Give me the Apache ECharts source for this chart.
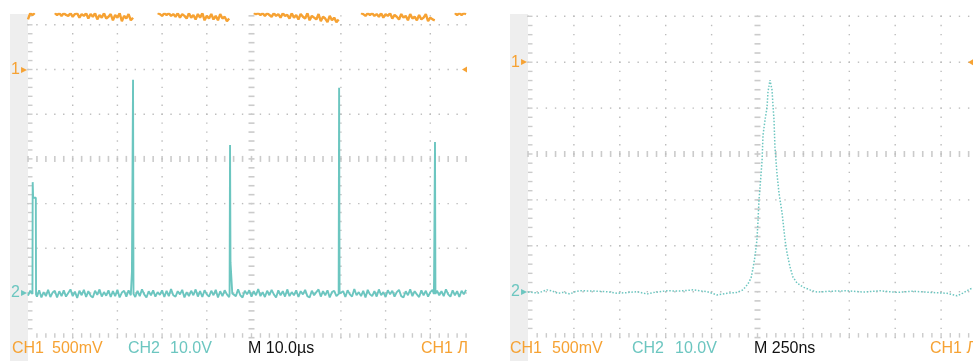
<!DOCTYPE html>
<html>
<head>
<meta charset="utf-8">
<script src="https://cdn.jsdelivr.net/npm/echarts@6/dist/echarts.min.js"></script>
<style>
  html, body { margin: 0; padding: 0; background: #ffffff; }
  #scope { width: 973px; height: 361px; }
</style>
</head>
<body>
<div id="scope"></div>
<script>
// ---- channel / timebase settings ----
const CH1_VOLTS_PER_DIV = 0.5;   // 500 mV/div
const CH2_VOLTS_PER_DIV = 10;    // 10.0 V/div
const CH1_GROUND_DIV = 6;        // "1" ground marker, divisions above the bottom edge
const CH2_GROUND_DIV = 1;        // "2" ground marker
const LEFT_US_PER_DIV = 10;      // M 10.0 µs
const RIGHT_NS_PER_DIV = 250;    // M 250 ns
const LEFT_STEP_US = 0.5;        // sample spacing of the left record

// ---- left screen, CH1 (volts); the trace runs off the top of the screen between segments ----
const leftCh1Segments = [
  { start: 0.0,  values: [0.56, 0.63, 0.61, 0.63] },
  { start: 6.0,  values: [0.63, 0.61, 0.63, 0.60, 0.63, 0.61, 0.60, 0.63, 0.59, 0.62, 0.63, 0.58, 0.62, 0.60, 0.63, 0.57, 0.62, 0.59,
                          0.63, 0.56, 0.61, 0.58, 0.63, 0.57, 0.59, 0.62, 0.55, 0.61, 0.58, 0.63, 0.54, 0.60, 0.57, 0.62, 0.55, 0.58] },
  { start: 29.0, values: [0.63, 0.62, 0.60, 0.63, 0.61, 0.63, 0.60, 0.62, 0.59, 0.63, 0.58, 0.62, 0.60, 0.57, 0.63, 0.58, 0.61,
                          0.56, 0.62, 0.58, 0.63, 0.55, 0.60, 0.57, 0.62, 0.56, 0.60, 0.55, 0.62, 0.57, 0.59, 0.54, 0.57] },
  { start: 50.5, values: [0.63, 0.62, 0.63, 0.61, 0.63, 0.60, 0.63, 0.61, 0.59, 0.63, 0.60, 0.62, 0.58, 0.63, 0.60, 0.61, 0.57, 0.63, 0.58, 0.61,
                          0.56, 0.62, 0.59, 0.57, 0.63, 0.55, 0.60, 0.58, 0.56, 0.62, 0.54, 0.59, 0.57, 0.53, 0.60, 0.55, 0.58, 0.53, 0.56] },
  { start: 74.5, values: [0.63, 0.62, 0.60, 0.63, 0.61, 0.63, 0.60, 0.62, 0.59, 0.63, 0.58, 0.62, 0.60, 0.63, 0.57, 0.61, 0.59,
                          0.56, 0.62, 0.58, 0.60, 0.55, 0.62, 0.57, 0.59, 0.55, 0.61, 0.56, 0.58, 0.62, 0.54, 0.58, 0.56, 0.55] },
  { start: 95.5, values: [0.63, 0.61, 0.63, 0.61, 0.63, 0.62] }
];

// ---- left screen, CH2 baseline (volts), one value every LEFT_STEP_US from t = 0 ----
const leftCh2Baseline = [
  -0.6, 0.5, -0.9, 0.3, -0.8, 0.6, -1.0, 0.2, -0.7, 0.7,
  -0.9, 0.1, 0.5, -1.0, 0.4, -0.7, 0.6, -0.8, 0.0, 0.8,
  -0.7, 0.3, -1.1, 0.5, -0.5, 0.7, -0.9, 0.4, -0.6, -1.0,
  0.5, -0.4, 0.8, -0.8, 0.2, -0.6, 0.6, -0.9, 0.4, -0.7,
  0.7, -1.0, 0.1, 0.5, -0.8, 0.6, -0.5, 0.3, -0.9, 0.5,
  -0.7, 0.8, -0.3, -1.0, 0.4, -0.5, 0.6, -0.8, 0.2, -0.4,
  0.6, -0.9, 0.5, -0.7, 0.9, -0.5, -0.8, 0.4, -0.3, 0.7,
  -1.0, 0.2, -0.7, 0.5, -0.5, 0.8, -0.8, 0.4, -0.9, 0.6,
  -0.3, -0.8, 0.5, -0.5, 0.7, -1.0, 0.4, -0.7, 0.6, -0.3,
  -0.9, 0.5, 0.1, -0.7, 0.8, -0.5, -1.0, 0.5, -0.3, 0.6,
  -0.8, 0.4, -0.5, 0.9, -0.7, 0.2, -0.9, 0.5, -0.5, 0.7,
  -0.3, -1.0, 0.6, -0.5, 0.4, -0.8, 0.8, -0.7, 0.2, -0.5,
  0.6, -0.9, 0.4, -0.3, 0.7, -0.7, -1.0, 0.5, -0.5, 0.2,
  0.8, -0.8, 0.4, -0.5, 0.6, -1.0, 0.2, 0.5, -0.7, 0.7,
  -0.5, 0.4, -0.9, 0.6, -0.3, -0.8, 0.9, -0.5, 0.2, -0.7,
  0.5, -1.0, 0.7, -0.3, -0.7, 0.4, -0.8, 0.8, -0.5, 0.2,
  -0.9, 0.6, -0.3, 0.5, -0.8, 0.2, 0.7, -0.7, -1.0, 0.4,
  -0.5, 0.8, -0.7, 0.4, -0.3, -0.9, 0.6, -0.5, 0.5, -0.8,
  0.2, 0.7, -1.0, 0.5, -0.5, 0.4, -0.7, 0.8, -0.3, -0.8,
  0.6, -0.5, 0.4, -0.9, 0.5, -0.3, 0.7
];

// ---- left screen, CH2 spikes: [time µs, volts] ----
const leftCh2Spikes = [
  [[1.0, -0.2], [1.05, 24.8], [1.15, 21.3], [1.75, 21.3], [1.8, -0.3]],
  [[23.2, -0.1], [23.25, 4.7], [23.45, 4.5], [23.5, 47.7], [23.6, -0.2]],
  [[45.1, -0.2], [45.2, 33.1], [45.3, 6.9], [45.6, 6.5], [45.7, -0.1]],
  [[69.5, -0.2], [69.6, 45.9], [69.7, -0.1]],
  [[90.8, -0.2], [90.85, 3.6], [91.0, 3.6], [91.05, 33.8], [91.15, -0.2]]
];

// ---- right screen, CH2 pulse: [time ns from left edge, volts] ----
const rightCh2Trace = [
  [0, -0.07], [54, -0.3], [103, 0.4], [131, 0.15], [163, -0.35], [191, -0.15], [229, -0.5], [256, 0.0],
  [283, 0.2], [354, 0.15], [430, 0.0], [485, -0.35], [539, -0.2], [594, 0.0], [648, -0.5], [681, -0.2],
  [757, 0.2], [828, 0.15], [899, 0.4], [975, 0.0], [1029, -0.7], [1084, -0.35], [1138, -0.15], [1171, 0.4],
  [1198, 1.7], [1215, 3.0], [1226, 5.2], [1236, 7.6], [1247, 11.3], [1253, 15.6], [1258, 19.9], [1264, 22.8],
  [1275, 28.7], [1280, 34.1], [1291, 37.4], [1302, 40.2], [1307, 43.5], [1318, 46.1],
  [1329, 44.0], [1335, 40.2], [1340, 37.4], [1345, 31.5], [1356, 25.8], [1367, 21.5], [1384, 17.1],
  [1400, 11.3], [1411, 8.4], [1427, 5.4], [1443, 3.2], [1465, 1.9], [1498, 1.0], [1536, 0.4], [1574, -0.07],
  [1645, 0.1], [1738, 0.2], [1825, -0.07], [1917, 0.2], [2010, -0.15], [2097, 0.1], [2190, -0.15],
  [2282, -0.35], [2337, -0.9], [2369, -0.3], [2408, 0.6], [2424, 0.8]
];

// ---- readout line under each screen ----
const leftReadout  = ['CH1', '500mV', 'CH2', '10.0V', 'M 10.0\u00b5s', 'CH1 \u041b'];
const rightReadout = ['CH1', '500mV', 'CH2', '10.0V', 'M 250ns', 'CH1 \u041b'];
const readoutKinds = ['ch1', 'ch1', 'ch2', 'ch2', 'time', 'ch1'];

// ---- look ----
const ORANGE = '#f6a233';
const TEAL = '#6cc6c0';
const DOT = '#bcbcbc';
const TICK = '#cbcbcb';
const STRIP = '#eeeeee';
const FONT = '"Liberation Sans", Arial, sans-serif';

// screen geometry (pixels)
const LEFT_SCREEN  = { left: 28,  top: 14, width: 439, height: 323.7, divPx: 44.7 };
const RIGHT_SCREEN = { left: 528, top: 14, width: 445, height: 323.6, divPx: 45.9 };
const leftReadoutX  = [12, 52, 128, 170, 248, 421];
const rightReadoutX = [510, 552, 632, 675, 754, 930];
const READOUT_Y = 348.5;

const toCh1Div = v => CH1_GROUND_DIV + v / CH1_VOLTS_PER_DIV;
const toCh2Div = v => CH2_GROUND_DIV + v / CH2_VOLTS_PER_DIV;

// CH1 on the left screen: segments joined with gaps where the trace leaves the screen
function buildCh1Left() {
  const out = [];
  leftCh1Segments.forEach((seg, si) => {
    if (si > 0) out.push([seg.start - LEFT_STEP_US / 2, null]);
    seg.values.forEach((v, i) => out.push([seg.start + i * LEFT_STEP_US, toCh1Div(v)]));
  });
  return out;
}

// CH2 on the left screen: baseline samples with the spike points merged in
function buildCh2Left() {
  const pts = [];
  leftCh2Baseline.forEach((v, i) => {
    const t = i * LEFT_STEP_US;
    const inside = leftCh2Spikes.some(s => t >= s[0][0] && t <= s[s.length - 1][0]);
    if (!inside) pts.push([t, v]);
  });
  leftCh2Spikes.forEach(s => s.forEach(p => pts.push([p[0], p[1]])));
  pts.sort((a, b) => a[0] - b[0]);
  return pts.map(p => [p[0], toCh2Div(p[1])]);
}

// graticule: dotted division lines, tick-marked centre cross and edge ticks
function graticule(gridIdx, perDiv, xMax, yMax) {
  return {
    type: 'custom',
    xAxisIndex: gridIdx,
    yAxisIndex: gridIdx,
    silent: true,
    z: 1,
    data: [0],
    renderItem: function (params, api) {
      const kids = [];
      const rect = (x, y, w, h, fill) => kids.push({
        type: 'rect', shape: { x: x, y: y, width: w, height: h }, style: { fill: fill }
      });
      const xSub = Math.floor(xMax / perDiv * 5 + 1e-6);
      const ySub = Math.floor(yMax * 5 + 1e-6);
      // horizontal division rows
      for (let m = 1; m <= 7; m++) {
        if (m > yMax) continue;
        for (let j = 0; j <= xSub; j++) {
          const p = api.coord([j * 0.2 * perDiv, m]);
          if (m === 4) rect(p[0] - 0.8, p[1] - 3, 1.6, 6, TICK);
          else rect(p[0] - 0.7, p[1] - 0.7, 1.4, 1.4, DOT);
        }
      }
      // vertical division columns
      for (let k = 1; k <= 9; k++) {
        for (let j = 0; j <= ySub; j++) {
          const p = api.coord([k * perDiv, j * 0.2]);
          if (k === 5) rect(p[0] - 3, p[1] - 0.8, 6, 1.6, TICK);
          else rect(p[0] - 0.7, p[1] - 0.7, 1.4, 1.4, DOT);
        }
      }
      // left edge ticks
      for (let j = 1; j <= ySub; j++) {
        const p = api.coord([0, j * 0.2]);
        rect(p[0], p[1] - 0.7, 4.5, 1.4, TICK);
      }
      // bottom edge ticks
      for (let j = 1; j <= xSub; j++) {
        const p = api.coord([j * 0.2 * perDiv, 0]);
        rect(p[0] - 0.7, p[1] - 4.5, 1.4, 4.5, TICK);
      }
      return { type: 'group', children: kids };
    }
  };
}

const leftXMax = LEFT_SCREEN.width / LEFT_SCREEN.divPx * LEFT_US_PER_DIV;
const leftYMax = LEFT_SCREEN.height / LEFT_SCREEN.divPx;
const rightXMax = RIGHT_SCREEN.width / RIGHT_SCREEN.divPx * RIGHT_NS_PER_DIV;
const rightYMax = RIGHT_SCREEN.height / RIGHT_SCREEN.divPx;

function xAxisFor(gridIdx, max) {
  return { type: 'value', gridIndex: gridIdx, min: 0, max: max, show: false };
}
function yAxisFor(gridIdx, max) {
  return {
    type: 'value', gridIndex: gridIdx, min: 0, max: max, interval: 1,
    axisLine: { show: false }, axisTick: { show: false }, splitLine: { show: false },
    axisLabel: {
      show: true, margin: 1, showMaxLabel: false,
      formatter: v => v === CH1_GROUND_DIV ? '{n1|1}{a1|\u25b8}' : (v === CH2_GROUND_DIV ? '{n2|2}{a2|\u25b8}' : ''),
      rich: {
        n1: { color: ORANGE, fontSize: 16, fontFamily: FONT },
        a1: { color: ORANGE, fontSize: 12, fontFamily: '"DejaVu Sans"', padding: [0, 0, 0, 1] },
        n2: { color: TEAL, fontSize: 16, fontFamily: FONT },
        a2: { color: TEAL, fontSize: 12, fontFamily: '"DejaVu Sans"', padding: [0, 0, 0, 1] }
      }
    }
  };
}

function readoutTexts(texts, xs) {
  return texts.map((t, i) => ({
    type: 'text', x: xs[i], y: READOUT_Y, z: 5,
    style: {
      text: t, fill: readoutKinds[i] === 'ch1' ? ORANGE : (readoutKinds[i] === 'ch2' ? TEAL : '#111111'),
      font: '16px ' + FONT, verticalAlign: 'middle', align: 'left'
    }
  }));
}

function triggerMark(x, y) {
  return {
    silent: true, animation: false,
    symbol: 'triangle', symbolSize: [6, 5], symbolRotate: 90, symbolOffset: [-2.5, 0],
    itemStyle: { color: ORANGE }, label: { show: false },
    data: [{ coord: [x, y] }]
  };
}

const chart = echarts.init(document.getElementById('scope'), null, { renderer: 'canvas' });
chart.setOption({
  animation: false,
  backgroundColor: '#ffffff',
  grid: [
    { left: LEFT_SCREEN.left, top: LEFT_SCREEN.top, width: LEFT_SCREEN.width, height: LEFT_SCREEN.height },
    { left: RIGHT_SCREEN.left, top: RIGHT_SCREEN.top, width: RIGHT_SCREEN.width, height: RIGHT_SCREEN.height }
  ],
  xAxis: [xAxisFor(0, leftXMax), xAxisFor(1, rightXMax)],
  yAxis: [yAxisFor(0, leftYMax), yAxisFor(1, rightYMax)],
  graphic: [
    { type: 'rect', z: -10, shape: { x: 10, y: 14, width: 18, height: 347 }, style: { fill: STRIP } },
    { type: 'rect', z: -10, shape: { x: 510, y: 14, width: 18, height: 347 }, style: { fill: STRIP } },
    ...readoutTexts(leftReadout, leftReadoutX),
    ...readoutTexts(rightReadout, rightReadoutX)
  ],
  series: [
    graticule(0, LEFT_US_PER_DIV, leftXMax, leftYMax),
    graticule(1, RIGHT_NS_PER_DIV, rightXMax, rightYMax),
    {
      name: 'CH1', type: 'line', xAxisIndex: 0, yAxisIndex: 0, z: 3,
      data: buildCh1Left(), showSymbol: false, connectNulls: false, clip: true,
      lineStyle: { color: ORANGE, width: 2.4 },
      markPoint: triggerMark(leftXMax, CH1_GROUND_DIV)
    },
    {
      name: 'CH2', type: 'line', xAxisIndex: 0, yAxisIndex: 0, z: 4,
      data: buildCh2Left(), showSymbol: false, clip: true,
      lineStyle: { color: TEAL, width: 1.9 }
    },
    {
      name: 'CH1 ', type: 'line', xAxisIndex: 1, yAxisIndex: 1, z: 3,
      data: [], showSymbol: false,
      markPoint: triggerMark(rightXMax, CH1_GROUND_DIV)
    },
    {
      name: 'CH2 ', type: 'line', xAxisIndex: 1, yAxisIndex: 1, z: 4,
      data: rightCh2Trace.map(p => [p[0], toCh2Div(p[1])]), showSymbol: false, clip: true,
      lineStyle: { color: TEAL, width: 1.5, type: [1.5, 1.7] }
    }
  ]
});
</script>
</body>
</html>
